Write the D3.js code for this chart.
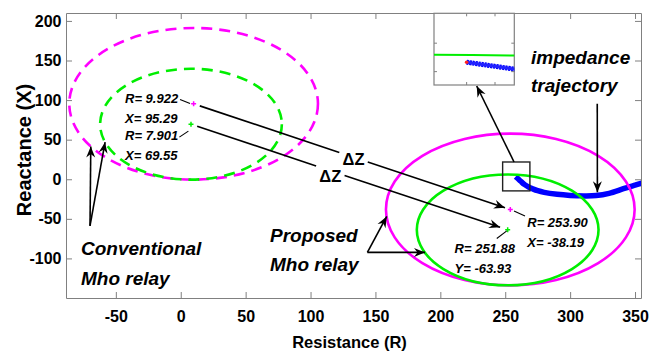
<!DOCTYPE html>
<html>
<head>
<meta charset="utf-8">
<script src="https://cdn.jsdelivr.net/npm/d3@7"></script>
<style>
  html, body { margin: 0; padding: 0; background: #fff; }
  svg { display: block; font-family: "Liberation Sans", Arial, Helvetica, sans-serif; }
</style>
</head>
<body>
<svg id="chart" width="661" height="351"></svg>
<script>
// ---- Mho relay characteristics (ohms) ----
// order: conventional outer, conventional inner, proposed outer, proposed inner
const centerR = [9.922, 7.901, 253.90, 251.88];
const centerX = [95.29, 69.55, -38.19, -63.93];
const reach   = [95.8, 70.0, 95.8, 70.0];
const relayColor  = ["#ff00ff", "#00ee00", "#ff00ff", "#00ee00"];
const relayDashed = [true, true, false, false];
const centerText = [
  ["R= 9.922", "X= 95.29"],
  ["R= 7.901", "X= 69.55"],
  ["R= 253.90", "X= -38.19"],
  ["R= 251.88", "Y= -63.93"]
];

// ---- apparent impedance trajectory ----
const trajR = [258, 259.7, 262, 265, 268, 271, 275, 280, 290, 300, 310, 320, 330, 340, 345, 350, 356];
const trajX = [3.3, 0.85, -2.6, -6.8, -9.8, -12.0, -14.5, -16.6, -19.0, -20.4, -21.0, -20.6, -17.8, -12.6, -9.9, -7.4, -4.4];

// ---- axis ticks ----
const xTicks = [-50, 0, 50, 100, 150, 200, 250, 300, 350];
const yTicks = [-100, -50, 0, 50, 100, 150, 200];
const insetXTicks = [258, 259];
const insetYTicks = [0, 10];

// ---- layout ----
const plot = { left: 66, right: 641, top: 13, bottom: 298 };
const inset = { left: 434, right: 514.3, top: 13.3, bottom: 85 };
const AXIS = "#808080";
const FONT_B = "bold";
const plain = d => String(d);   // ASCII hyphen for negatives

const svg = d3.select("#chart");
const x = d3.scaleLinear().domain([-88.4, 354.6]).range([plot.left, plot.right]);
const y = d3.scaleLinear().domain([-150, 210]).range([plot.bottom, plot.top]);

const ix = d3.scaleLinear().domain([256.85, 259.68]).range([inset.left, inset.right]);
const iy = d3.scaleLinear().domain([-4.7, 20.5]).range([inset.bottom, inset.top]);

const defs = svg.append("defs");
defs.append("clipPath").attr("id", "plotClip").append("rect")
  .attr("x", plot.left).attr("y", plot.top)
  .attr("width", plot.right - plot.left).attr("height", plot.bottom - plot.top);
defs.append("clipPath").attr("id", "insetClip").append("rect")
  .attr("x", inset.left).attr("y", inset.top)
  .attr("width", inset.right - inset.left).attr("height", inset.bottom - inset.top);
defs.append("marker").attr("id", "arrow")
  .attr("viewBox", "-12 -6 14 12").attr("refX", 0).attr("refY", 0)
  .attr("markerWidth", 14).attr("markerHeight", 12)
  .attr("markerUnits", "userSpaceOnUse").attr("orient", "auto")
  .append("path").attr("d", "M0,0 L-11,-4.5 L-7.5,0 L-11,4.5 Z").attr("fill", "#000");

// ---- axes (box with inward ticks) ----
function styleAxis(g) {
  g.select(".domain").attr("stroke", AXIS).attr("stroke-width", 1);
  g.selectAll(".tick line").attr("stroke", AXIS).attr("stroke-width", 1);
  g.selectAll(".tick text").attr("fill", "#000").attr("font-size", 16).attr("font-weight", FONT_B);
}
svg.append("g").attr("transform", `translate(0,${plot.bottom})`)
  .call(d3.axisBottom(x).tickValues(xTicks).tickFormat(plain).tickSize(-6).tickSizeOuter(0).tickPadding(13))
  .call(styleAxis);
svg.append("g").attr("transform", `translate(0,${plot.top})`)
  .call(d3.axisTop(x).tickValues(xTicks).tickSize(-6).tickSizeOuter(0).tickFormat(""))
  .call(styleAxis);
svg.append("g").attr("transform", `translate(${plot.left},0)`)
  .call(d3.axisLeft(y).tickValues(yTicks).tickFormat(plain).tickSize(-6).tickSizeOuter(0).tickPadding(4.5))
  .call(styleAxis);
svg.append("g").attr("transform", `translate(${plot.right},0)`)
  .call(d3.axisRight(y).tickValues(yTicks).tickSize(-6).tickSizeOuter(0).tickFormat(""))
  .call(styleAxis);

svg.append("text").attr("x", 349.5).attr("y", 348)
  .attr("text-anchor", "middle").attr("font-size", 16.5).attr("font-weight", FONT_B)
  .text("Resistance (R)");
svg.append("text").attr("transform", "translate(31,150) rotate(-90)")
  .attr("text-anchor", "middle").attr("font-size", 20).attr("font-weight", FONT_B)
  .text("Reactance (X)");

// ---- plotted data ----
const gPlot = svg.append("g").attr("clip-path", "url(#plotClip)");
const traj = trajR.map((r, i) => [r, trajX[i]]);
const lineMain = d3.line().x(d => x(d[0])).y(d => y(d[1])).curve(d3.curveCatmullRom);

gPlot.append("path").datum(traj).attr("d", lineMain)
  .attr("fill", "none").attr("stroke", "#0000ff").attr("stroke-width", 5.5);

const relays = centerR.map((r, i) => ({
  r, xv: centerX[i], reach: reach[i], color: relayColor[i], dashed: relayDashed[i], text: centerText[i]
}));

gPlot.selectAll("ellipse.relay").data(relays).join("ellipse").attr("class", "relay")
  .attr("cx", d => x(d.r)).attr("cy", d => y(d.xv))
  .attr("rx", d => x(d.r + d.reach) - x(d.r))
  .attr("ry", d => y(d.xv) - y(d.xv + d.reach))
  .attr("fill", "none").attr("stroke", d => d.color).attr("stroke-width", 2.6)
  .attr("stroke-dasharray", d => d.dashed ? "11,7" : null);

// centre markers
gPlot.selectAll("path.centre").data(relays).join("path").attr("class", "centre")
  .attr("d", d => {
    const cx = x(d.r), cy = y(d.xv), s = 2.5;
    return `M${cx - s},${cy}H${cx + s}M${cx},${cy - s}V${cy + s}`;
  })
  .attr("stroke", d => d.color).attr("stroke-width", 1.5);

// ---- centre value labels with short leader lines ----
// offsets (px) of label / leader relative to each centre marker
const labelOffset = [[-68.6, -5.4], [-65.9, 10.9], [17, 13], [-53.1, 18.6]];
const leaderOffset = [
  [[-13.6, -4.4], [-3.6, -0.4]],
  [[-11.6, 12.9], [-2.6, 6.9]],
  [[3.7, 1.4], [14.7, 6.4]],
  [[-10.9, 8.6], [-0.9, 1.0]]
];
relays.forEach((d, i) => {
  const cx = x(d.r), cy = y(d.xv);
  const t = svg.append("text").attr("font-size", 13).attr("font-weight", FONT_B)
    .attr("font-style", "italic").attr("fill", "#000");
  d.text.forEach((s, k) => {
    t.append("tspan").attr("x", cx + labelOffset[i][0])
      .attr("y", cy + labelOffset[i][1] + k * 20 + 4.7).text(s);
  });
  const lo = leaderOffset[i];
  svg.append("line")
    .attr("x1", cx + lo[0][0]).attr("y1", cy + lo[0][1])
    .attr("x2", cx + lo[1][0]).attr("y2", cy + lo[1][1])
    .attr("stroke", "#000").attr("stroke-width", 1.1);
});

// ---- ΔZ shift arrows (conventional centre -> proposed centre) ----
const shiftPairs = [[0, 2, 0.505, 2], [1, 3, 0.44, 5]];
shiftPairs.forEach(([a, b, t, drop]) => {
  const x1 = x(centerR[a]), y1 = y(centerX[a]);
  const x2 = x(centerR[b]), y2 = y(centerX[b]);
  const len = Math.hypot(x2 - x1, y2 - y1), ux = (x2 - x1) / len, uy = (y2 - y1) / len;
  const sA = 6.5, sB = a === 0 ? 5.6 : 8, gap = 15;
  const mx = x1 + ux * len * t, my = y1 + uy * len * t;
  svg.append("line")
    .attr("x1", x1 + ux * sA).attr("y1", y1 + uy * sA)
    .attr("x2", mx - ux * gap).attr("y2", my - uy * gap)
    .attr("stroke", "#000").attr("stroke-width", 1.6);
  svg.append("line")
    .attr("x1", mx + ux * gap).attr("y1", my + uy * gap)
    .attr("x2", x2 - ux * sB).attr("y2", y2 - uy * sB)
    .attr("stroke", "#000").attr("stroke-width", 1.6)
    .attr("marker-end", "url(#arrow)");
  svg.append("text").attr("x", mx).attr("y", my + drop + 6)
    .attr("text-anchor", "middle").attr("font-size", 16.5).attr("font-weight", FONT_B)
    .text("ΔZ");
});

// ---- zoom window on the trajectory start ----
const zoomR = [248, 269], zoomX = [-14.7, 21.8];
svg.append("rect")
  .attr("x", x(zoomR[0])).attr("y", y(zoomX[1]))
  .attr("width", x(zoomR[1]) - x(zoomR[0])).attr("height", y(zoomX[0]) - y(zoomX[1]))
  .attr("fill", "none").attr("stroke", "#222").attr("stroke-width", 1.4);

// ---- inset ----
svg.append("rect")
  .attr("x", inset.left).attr("y", inset.top)
  .attr("width", inset.right - inset.left).attr("height", inset.bottom - inset.top)
  .attr("fill", "#fff").attr("stroke", AXIS).attr("stroke-width", 1.2);
const gIn = svg.append("g").attr("clip-path", "url(#insetClip)");
// proposed inner zone boundary as seen in the inset
const gi = relays[3];
gIn.append("ellipse")
  .attr("cx", ix(gi.r)).attr("cy", iy(gi.xv))
  .attr("rx", ix(gi.r + gi.reach) - ix(gi.r)).attr("ry", iy(gi.xv) - iy(gi.xv + gi.reach))
  .attr("fill", "none").attr("stroke", "#00ee00").attr("stroke-width", 2);
const lineInset = d3.line().x(d => ix(d[0])).y(d => iy(d[1])).curve(d3.curveCatmullRom);
gIn.append("path").datum(traj).attr("d", lineInset)
  .attr("fill", "none").attr("stroke", "#0000ff").attr("stroke-width", 5)
  .attr("stroke-dasharray", "2.2,0.8");
gIn.append("path").datum(traj.slice(0, 2)).attr("d", lineInset)
  .attr("fill", "none").attr("stroke", "#2222ff").attr("stroke-width", 3);
gIn.append("circle").attr("cx", ix(trajR[0])).attr("cy", iy(trajX[0])).attr("r", 1.8)
  .attr("fill", "#ff2020");
// inset ticks
const tk = 3;
insetXTicks.forEach(v => {
  svg.append("path").attr("d", `M${ix(v)},${inset.top}v${tk}M${ix(v)},${inset.bottom}v${-tk}`)
    .attr("stroke", AXIS).attr("stroke-width", 1);
});
insetYTicks.forEach(v => {
  svg.append("path").attr("d", `M${inset.left},${iy(v)}h${tk}M${inset.right},${iy(v)}h${-tk}`)
    .attr("stroke", AXIS).attr("stroke-width", 1);
});

// ---- annotation arrows ----
function arrow(x1, y1, x2, y2) {
  svg.append("line").attr("x1", x1).attr("y1", y1).attr("x2", x2).attr("y2", y2)
    .attr("stroke", "#000").attr("stroke-width", 1.6).attr("marker-end", "url(#arrow)");
}
// zoom window -> inset
arrow(x(256.8), y(zoomX[1]), 476.7, inset.bottom + 1);
// impedance trajectory label
arrow(x(320.9), y(95.4), x(321), y(-16.5));
// conventional relay
arrow(x(-69.9), y(-58.9), x(-69.3), y(41.4));
arrow(x(-69.9), y(-58.9), x(-58.3), y(46.8));
// proposed relay
arrow(x(143.8), y(-92.4), x(158.7), y(-47));
arrow(x(143.8), y(-92.4), x(188.2), y(-92.4));

// ---- annotation text ----
function note(lines, x0, y0, dy) {
  const t = svg.append("text").attr("font-size", 19).attr("font-weight", FONT_B)
    .attr("font-style", "italic").attr("fill", "#000");
  lines.forEach((s, k) => t.append("tspan").attr("x", x0).attr("y", y0 + k * dy).text(s));
}
note(["Conventional", "Mho relay"], 81, 254.5, 30);
note(["Proposed", "Mho relay"], 270, 241.5, 29.2);
note(["impedance", "trajectory"], 531, 64, 28);
</script>
</body>
</html>
